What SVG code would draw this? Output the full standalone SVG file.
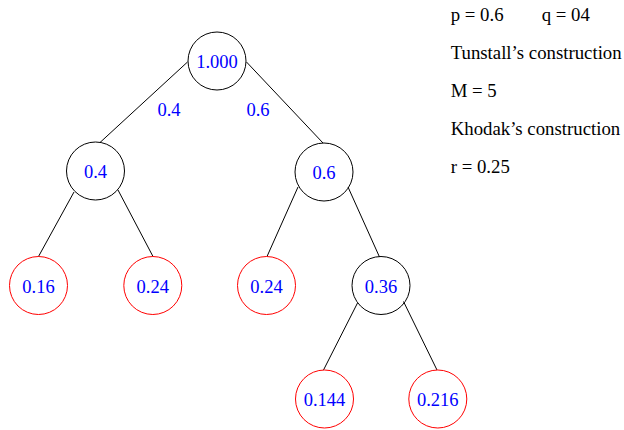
<svg xmlns="http://www.w3.org/2000/svg" width="624" height="430" viewBox="0 0 624 430">
<style>
text{font-family:"Liberation Serif","Times New Roman",serif;font-size:18.5px}
.lbl{fill:#0000ff;text-anchor:middle}
.info{fill:#000;font-size:18.8px}
.inner{fill:none;stroke:#000;stroke-width:1}
.leaf{fill:none;stroke:#ff0000;stroke-width:1}
.edge{stroke:#000;stroke-width:1;fill:none}
</style>
<rect width="624" height="430" fill="#fff"/>
<g id="connectors">
<line class="edge" x1="100" y1="142.5" x2="187.5" y2="62"/>
<line class="edge" x1="246.5" y1="62" x2="323" y2="143"/>
<line class="edge" x1="74" y1="192" x2="38.5" y2="256.5"/>
<line class="edge" x1="118" y1="190" x2="153" y2="256.5"/>
<line class="edge" x1="298" y1="187" x2="267" y2="256.5"/>
<line class="edge" x1="348" y1="187" x2="379.5" y2="257"/>
<line class="edge" x1="357.5" y1="303" x2="323.5" y2="370"/>
<line class="edge" x1="403.5" y1="301.5" x2="437" y2="370"/>
<text class="lbl" x="169" y="116">0.4</text>
<text class="lbl" x="258" y="116">0.6</text>
</g>
<g id="n_root"><circle class="inner" cx="217" cy="61" r="29"/><text class="lbl" x="217" y="68">1.000</text></g>
<g id="n_0"><circle class="inner" cx="95.5" cy="171" r="29"/><text class="lbl" x="95.5" y="178">0.4</text></g>
<g id="n_1"><circle class="inner" cx="324" cy="172" r="29"/><text class="lbl" x="324" y="179">0.6</text></g>
<g id="n_00"><circle class="leaf" cx="38.5" cy="285.5" r="29"/><text class="lbl" x="38.5" y="292.5">0.16</text></g>
<g id="n_01"><circle class="leaf" cx="152.8" cy="285.5" r="29"/><text class="lbl" x="152.8" y="292.5">0.24</text></g>
<g id="n_10"><circle class="leaf" cx="266.5" cy="285.5" r="29"/><text class="lbl" x="266.5" y="292.5">0.24</text></g>
<g id="n_11"><circle class="inner" cx="381" cy="285.5" r="29"/><text class="lbl" x="381" y="292.5">0.36</text></g>
<g id="n_110"><circle class="leaf" cx="324.5" cy="399" r="29"/><text class="lbl" x="324.5" y="406">0.144</text></g>
<g id="n_111"><circle class="leaf" cx="437.8" cy="399" r="29"/><text class="lbl" x="437.8" y="406">0.216</text></g>
<g id="info">
<text class="info" x="450.7" y="21">p = 0.6</text>
<text class="info" x="541.7" y="21">q = 04</text>
<text class="info" x="450.7" y="59">Tunstall’s construction</text>
<text class="info" x="450.7" y="97">M = 5</text>
<text class="info" x="450.7" y="135">Khodak’s construction</text>
<text class="info" x="450.7" y="173">r = 0.25</text>
</g>
</svg>
